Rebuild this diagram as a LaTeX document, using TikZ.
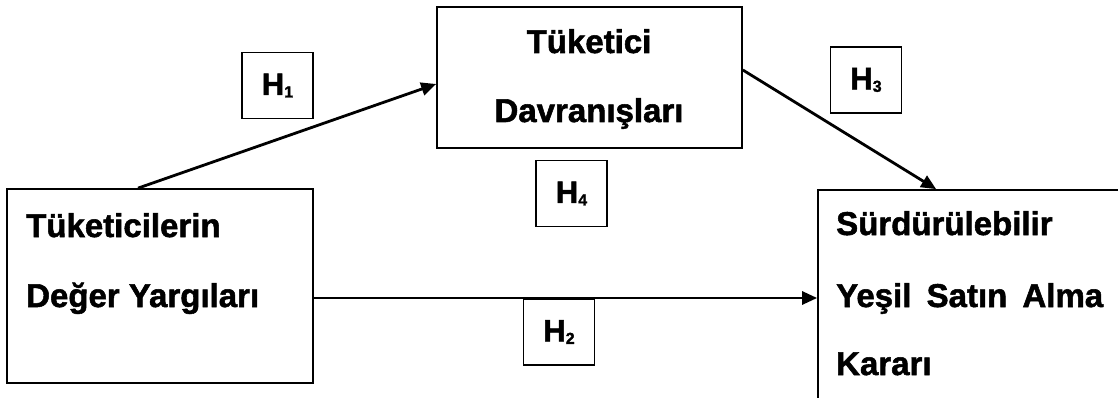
\documentclass[tikz,border=0pt]{standalone}
\usepackage{fontspec}
\setmainfont{Liberation Sans}
\newfontfamily\heavy{Liberation Sans Bold}[FakeBold=1.6]
\usetikzlibrary{arrows.meta,calc}
\newcommand\hlab[1]{H\raisebox{-2.5pt}{\fontsize{16}{16}\selectfont #1}}
\begin{document}
\begin{tikzpicture}[x=1pt,y=-1pt,
  box/.style={draw=black,line width=1.7pt,inner sep=0pt},
  hbox/.style={draw=black,line width=1.6pt,inner sep=0pt,minimum width=71pt,minimum height=66pt,font=\fontsize{31}{31}\heavy},
  lbl/.style={inner sep=0pt,font=\fontsize{33}{33}\heavy},
  arr/.style={line width=2.8pt,-{Triangle[length=15pt,width=13pt]}}]
\useasboundingbox (0,0) rectangle (1118,398);
\clip (0,0) rectangle (1118,398);
% main boxes
\node[box,minimum width=306pt,minimum height=194pt] (lb) at (160,286) {};
\node[box,minimum width=305pt,minimum height=141pt] (tb) at (589.5,77.5) {};
\node[box,minimum width=310pt,minimum height=220pt] (rb) at (973,300) {};
% texts
\node[lbl,anchor=base west] (l1) at (26,237) {Tüketicilerin};
\node[lbl,anchor=base west] (l2) at (26,307) {Değer Yargıları};
\node[lbl,anchor=base] (t1) at (589,53) {Tüketici};
\node[lbl,anchor=base] (t2) at (589,122) {Davranışları};
\node[lbl,anchor=base west] (r1) at (836,235) {Sürdürülebilir};
\node[lbl,anchor=base west] (r2) at (836,307) {\hbox to 267pt{Yeşil\hfill Satın\hfill Alma}};
\node[lbl,anchor=base west] (r3) at (836,375) {Kararı};
% hypothesis boxes
\node[hbox] (h1) at (277.5,85.5) {\hlab{1}};
\node[hbox] (h4) at (571.5,193.5) {\hlab{4}};
\node[hbox] (h2) at (559,332) {\hlab{2}};
\node[hbox] (h3) at (866,80) {\hlab{3}};
% arrows
\coordinate (a1s) at ([xshift=-22pt]lb.north);
\coordinate (a1e) at ([yshift=-6.5pt]tb.west);
\draw[arr] (a1s) -- (a1e);
\coordinate (a3s) at ([yshift=7.5pt]tb.east);
\coordinate (a3e) at ([xshift=119pt]rb.north west);
\draw[arr] (a3s) -- (a3e);
\draw[arr] ([yshift=-12pt]lb.east) -- ([yshift=-12pt]lb.east -| rb.west);
\end{tikzpicture}
\end{document}
